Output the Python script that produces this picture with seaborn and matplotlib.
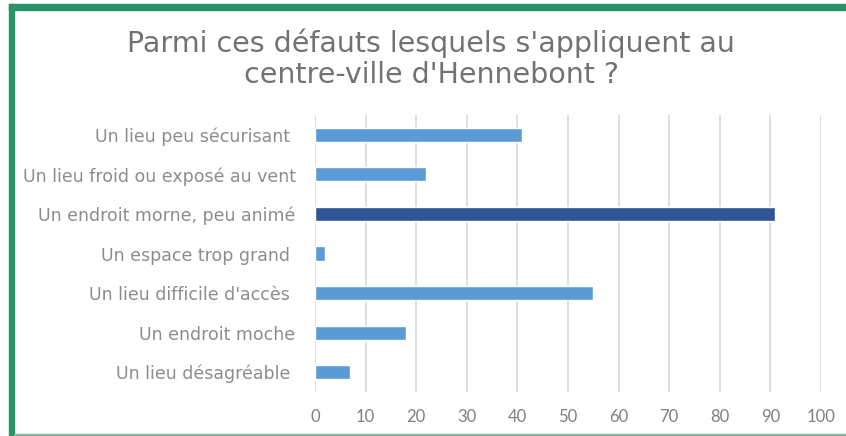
import numpy as np
import pandas as pd
import matplotlib
matplotlib.use("Agg")
import matplotlib.pyplot as plt
from matplotlib.patches import Rectangle
import seaborn as sns

# données du graphique
categories = [
    "Un lieu peu sécurisant ",
    "Un lieu froid ou exposé au vent",
    "Un endroit morne, peu animé",
    "Un espace trop grand ",
    "Un lieu difficile d'accès ",
    "Un endroit moche",
    "Un lieu désagréable ",
]
valeurs = [41, 22, 91, 2, 55, 18, 7]
ticks_x = [0, 10, 20, 30, 40, 50, 60, 70, 80, 90, 100]
titre = "Parmi ces défauts lesquels s'appliquent au\ncentre-ville d'Hennebont ?"

sns.set_theme(style="white")
plt.rcParams['font.family'] = ['DejaVu Sans']

df = pd.DataFrame({"cat": categories, "val": valeurs})
clair, fonce = "#5B9BD5", "#2F5597"
couleurs = {c: (fonce if v == max(valeurs) else clair) for c, v in zip(categories, valeurs)}

W, H = 846, 436
fig = plt.figure(figsize=(W / 100, H / 100), dpi=100)
ax = fig.add_axes([315 / W, 1 - 392 / H, (821 - 315) / W, (392 - 115) / H])

sns.barplot(data=df, y="cat", x="val", hue="cat", palette=couleurs, orient="h",
            width=0.36, legend=False, ax=ax, saturation=1)

ax.set_xlim(0, 100)
ax.set_ylim(6.5, -0.5)
ax.set_xticks(ticks_x)
ax.xaxis.grid(True, color="#D9D9D9", linewidth=1.2)
ax.set_axisbelow(True)
for s in ax.spines.values():
    s.set_visible(False)
ax.set_xlabel("")
ax.set_ylabel("")
ax.tick_params(axis="x", length=0, pad=12, labelcolor="#7F7F7F")
ax.tick_params(axis="y", length=0, pad=14, labelsize=12.5, labelcolor="#8C8C8C")
for lab in ax.get_xticklabels():
    lab.set_family(["Lato", "DejaVu Sans"])
    lab.set_fontsize(12)

fig.text(0.5 + 8 / W, 1 - 59 / H, titre, ha="center", va="center", fontsize=20.5,
         color="#767171", linespacing=1.15)

# cadre vert
vert = "#2A9468"
fig.patches.append(Rectangle((9 / W, 0), 5 / W, 1 - 4 / H, transform=fig.transFigure,
                             color=vert, zorder=5))
fig.patches.append(Rectangle((9 / W, 1 - 10 / H), 1 - 9 / W, 6 / H, transform=fig.transFigure,
                             color=vert, zorder=5))
fig.patches.append(Rectangle((14 / W, 0), 1 - 14 / W, 2 / H, transform=fig.transFigure,
                             color="#7FB89E", zorder=5))

fig.savefig("out.png", dpi=100)
